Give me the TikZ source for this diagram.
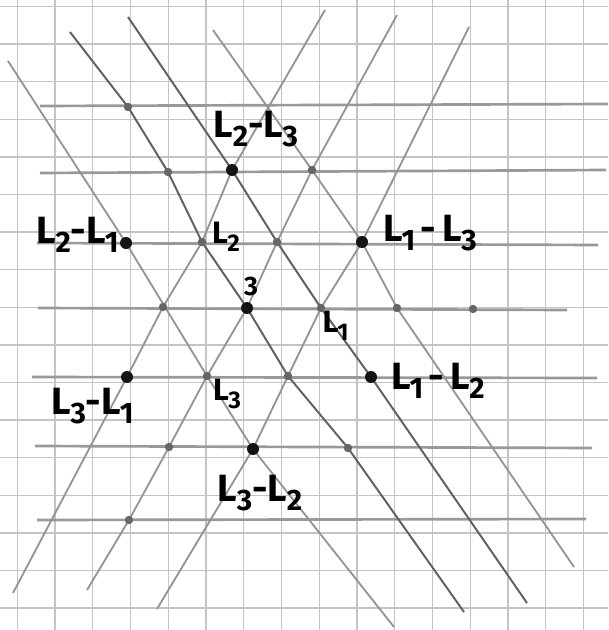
\documentclass[tikz,border=0pt]{standalone}
\usepackage{fontspec}
\setmainfont{Fira Sans}
\usetikzlibrary{positioning,backgrounds}
\newcommand{\Ls}[1]{L\kern-0.3pt\raisebox{-0.25em}{\scalebox{0.78}{#1}}}
\newcommand{\Lone}{L\raisebox{-0.25em}{\scalebox{0.78}{\kern-1pt1\kern-1pt}}}

\begin{document}
\begin{tikzpicture}[
  x=0.025cm, y=-0.025cm,
  gridline/.style={black!23, line width=0.9pt},
  hline/.style={black!40, line width=1.9pt},
  pencil/.style={black!42, line width=1.3pt, line join=round},
  pencildark/.style={black!62, line width=1.4pt, line join=round},
  wdot/.style={circle, fill=black!60, inner sep=0pt, minimum size=0.21cm},
  rdot/.style={circle, fill=black!92, inner sep=0pt, minimum size=0.30cm},
  rlab/.style={font=\fontsize{27}{30}\selectfont\bfseries, inner sep=0pt},
  wlab/.style={font=\fontsize{22}{25}\selectfont\bfseries, inner sep=0pt},
  olab/.style={font=\fontsize{19}{21}\selectfont\bfseries, inner sep=0pt},
]
\useasboundingbox (0,0) rectangle (608,630);
% lattice points
\node[wdot] (a1) at (128,107) {};
\node[wdot] (b1) at (168,172) {};
\node[rdot] (b2) at (232,170) {};
\node[wdot] (b3) at (312,170) {};
\node[rdot] (c1) at (126,243) {};
\node[wdot] (c2) at (202,242) {};
\node[wdot] (c3) at (277,242) {};
\node[rdot] (c4) at (362,242) {};
\node[wdot] (d1) at (163,307) {};
\node[rdot] (d2) at (247,308) {};
\node[wdot] (d3) at (321,308) {};
\node[wdot] (d4) at (397,308) {};
\node[wdot] (d5) at (473,309) {};
\node[rdot] (e1) at (127,377) {};
\node[wdot] (e2) at (207,376) {};
\node[wdot] (e3) at (288,376) {};
\node[rdot] (e4) at (371,377) {};
\node[wdot] (f1) at (169,447) {};
\node[rdot] (f2) at (253,449) {};
\node[wdot] (f3) at (348,448) {};
\node[wdot] (g1) at (129,520) {};

\begin{scope}[on background layer]
\fill[white] (0,0) rectangle (608,630);
% squared paper
\foreach \gx in {0,...,15}
  \draw[gridline] ({17.3+37.75*\gx},0) -- ++(0,630);
\foreach \gy in {0,...,16}
  \draw[gridline] (0,{6.5+37.6*\gy}) -- ++(608,0);
% rows
\draw[hline] (40,106) -- (608,104);
\draw[hline] (40,173) -- (606,170);
\draw[hline] (37,243) -- (598,245);
\draw[hline] (38,308) -- (567,310);
\draw[hline] (32,377) -- (597,378);
\draw[hline] (35,446) -- (592,448);
\draw[hline] (37,520) -- (586,519);
% falling lines
\draw[pencil] (8,61) -- (c1.center) -- (e2.center) -- (f2.center) -- (394,627);
\draw[pencildark] (70,32) -- (a1.center) -- (b1.center) -- (c2.center) -- (d2.center) -- (e3.center) -- (f3.center) -- (464,612);
\draw[pencildark] (128,17) -- (b2.center) -- (c3.center) -- (d3.center) -- (e4.center) -- (527,603);
\draw[pencil] (213,30) -- (b3.center) -- (c4.center) -- (d4.center) -- (574,567);
% rising lines
\draw[pencil] (13,593) -- (e1.center) -- (d1.center) -- (c2.center) -- (b2.center) -- (325,10);
\draw[pencil] (87,590) -- (g1.center) -- (f1.center) -- (e2.center) -- (d2.center) -- (c3.center) -- (b3.center) -- (397,15);
\draw[pencil] (157,609) -- (f2.center) -- (e3.center) -- (d3.center) -- (c4.center) -- (469,27);
\end{scope}

% labels
\node[rlab] (l23) at (256,129) {\Ls{2}-\Ls{3}};
\node[rlab] (l21) at (77,235) {\Ls{2}-\Lone};
\node[rlab] (l13) at (430,233) {\Lone\,-\,\Ls{3}};
\node[rlab] (l31) at (92,406) {\Ls{3}-\Lone};
\node[rlab] (l12) at (438,381) {\Lone\,-\,\Ls{2}};
\node[rlab] (l32) at (260,493) {\Ls{3}-\Ls{2}};
\node[wlab] (w2) at (226,237) {\Ls{2}};
\node[wlab] (w1) at (335,326) {\Lone};
\node[wlab] (w3) at (227,394) {\Ls{3}};
\node[olab] (o3) at (251,287) {3};
\end{tikzpicture}
\end{document}
